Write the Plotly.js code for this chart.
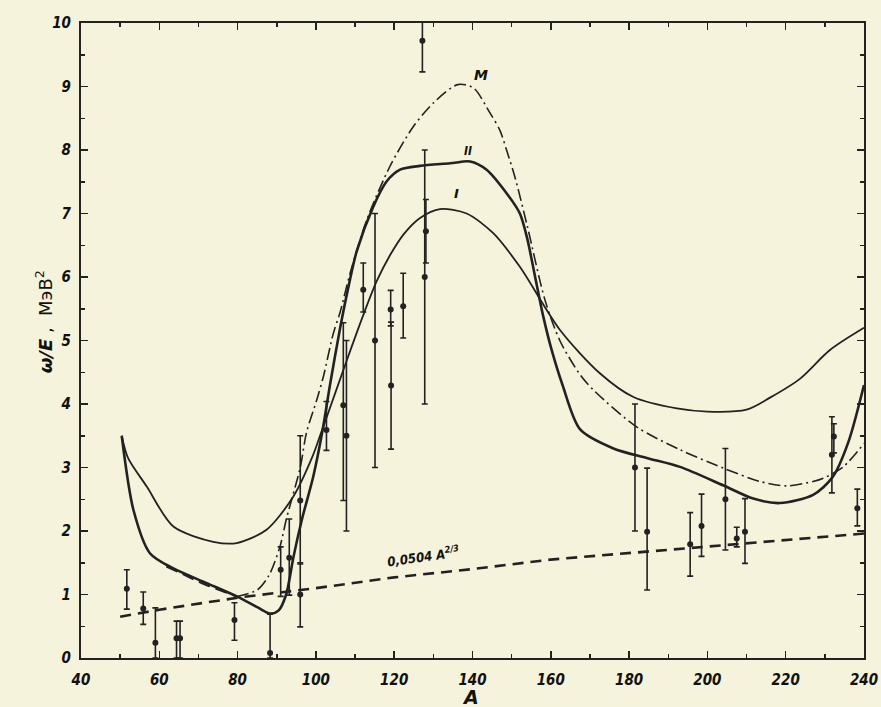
<!DOCTYPE html>
<html><head><meta charset="utf-8">
<script src="https://cdn.plot.ly/plotly-3.0.1.min.js"></script>
<style>html,body{margin:0;padding:0;background:#f5f3dc;}#chart{width:881px;height:707px;}</style>
</head><body><div id="chart"></div>
<script>
// Experimental points
const ptA   = [51.7,55.9,59.0,64.4,65.3,79.2,88.3,91.0,93.2,96.0,96.0,102.7,107.0,107.8,112.1,115.1,119.1,119.2,122.3,127.2,128.1,127.8,181.5,184.6,195.6,198.5,204.6,207.5,209.6,232.3,231.8,238.3];
const ptY   = [1.09,0.78,0.24,0.31,0.31,0.60,0.08,1.39,1.58,2.48,1.00,3.59,3.98,3.50,5.80,5.00,5.49,4.29,5.54,9.72,6.72,6.00,3.00,1.99,1.79,2.08,2.50,1.88,1.99,3.49,3.20,2.36];
const errUp = [0.30,0.26,0.55,0.27,0.27,0.27,0.61,0.36,0.61,1.02,0.50,0.45,1.30,1.50,0.42,2.00,0.30,1.00,0.52,0.48,0.50,2.00,1.00,1.00,0.50,0.50,0.80,0.18,0.52,0.20,0.60,0.30];
const errDn = [0.32,0.25,0.24,0.31,0.31,0.32,0.08,0.42,0.59,1.00,0.51,0.32,1.50,1.50,0.35,2.00,0.26,1.00,0.50,0.49,0.50,2.00,1.00,0.92,0.50,0.48,0.80,0.13,0.50,0.26,0.60,0.28];

// Curve I
const cIA = [50.4,52,56.8,63.6,73.8,79.8,87.4,94.2,99.3,101,102.8,107.9,112.1,115.5,119,122.5,126.6,131.7,138.5,145.3,152.1,162.3,172.6,181.1,192.2,200,210,216,223.7,231.3,240];
const cIY = [3.50,3.15,2.70,2.07,1.83,1.81,2.02,2.54,3.20,3.49,3.80,4.69,5.40,5.93,6.35,6.68,6.93,7.07,7.00,6.69,6.16,5.17,4.48,4.11,3.93,3.88,3.91,4.10,4.40,4.85,5.20];

// Curve II
const cIIA = [50.4,53.4,57.6,63.6,72.1,79.8,85,88.3,90.5,92.4,94.3,96.5,99.3,101.6,103.6,106.2,108.5,110.4,114.6,118,121.5,126.6,134.3,139.4,143.6,148.7,152.1,154,156,158,160,163,167.5,176,184.5,193,204,211.7,218.5,227,232,236,240];
const cIIY = [3.50,2.33,1.65,1.41,1.18,0.97,0.80,0.70,0.75,1.00,1.60,2.20,2.85,3.55,4.30,5.20,5.90,6.40,7.10,7.50,7.69,7.75,7.79,7.82,7.69,7.32,7.00,6.60,6.00,5.40,4.90,4.30,3.60,3.30,3.15,3.01,2.72,2.51,2.44,2.57,2.85,3.40,4.30];

// Curve M (dashed start, then dash-dot)
const mDashA = [61.8,66,72,79.8];
const mDashY = [1.44,1.32,1.15,0.97];
const mA = [79.8,85,88,90.8,92.5,96,97.6,100.2,101.9,104.4,106.2,108.7,113,118.9,124.9,130,136.2,140.2,144.5,147,148.7,150.9,154,158.5,162.3,167.5,170.9,181.9,193,204.1,213.4,220.2,227,229.6,234.7,240];
const mY = [0.97,1.07,1.30,1.75,2.20,3.00,3.55,4.06,4.43,5.10,5.45,6.05,6.90,7.74,8.37,8.74,9.03,8.98,8.58,8.31,8.00,7.56,6.80,5.64,5.00,4.46,4.22,3.64,3.28,2.99,2.78,2.71,2.78,2.83,3.01,3.38];

// 0,0504 A^(2/3) line
const lnA = [50,60,80,100,120,140,160,180,200,220,240];
const lnY = [0.65,0.76,0.95,1.10,1.27,1.40,1.55,1.65,1.75,1.85,1.96];

const ink = '#222222';
const data = [
  {x: lnA, y: lnY, mode:'lines', line:{color:ink, width:2.6, dash:'11px,7px'}, hoverinfo:'skip'},
  {x: cIA, y: cIY, mode:'lines', line:{color:ink, width:1.8, shape:'spline', smoothing:0.8}},
  {x: cIIA, y: cIIY, mode:'lines', line:{color:ink, width:2.6, shape:'spline', smoothing:0.8}},
  {x: mDashA, y: mDashY, mode:'lines', line:{color:ink, width:2.0, dash:'12px,6px', shape:'spline'}},
  {x: mA, y: mY, mode:'lines', line:{color:ink, width:1.6, dash:'12px,4px,2px,4px', shape:'spline', smoothing:0.8}},
  {x: ptA, y: ptY, mode:'markers', marker:{color:ink, size:6},
   error_y:{type:'data', symmetric:false, array:errUp, arrayminus:errDn, color:ink, thickness:1.6, width:3}}
];

const tickFont = {family:'DejaVu Sans Condensed, DejaVu Sans, sans-serif', size:15, color:'#111', weight:'bold', style:'italic'};
const layout = {
  width:881, height:707, showlegend:false,
  paper_bgcolor:'#f5f3dc', plot_bgcolor:'#f5f3dc',
  margin:{l:81, r:17, t:23, b:49},
  xaxis:{range:[40,240], tick0:40, dtick:20, showgrid:false, zeroline:false,
    showline:true, linecolor:ink, linewidth:2, mirror:'allticks',
    ticks:'inside', ticklen:7, tickwidth:1.5, tickcolor:ink,
    minor:{dtick:10, ticks:'inside', ticklen:4, tickcolor:ink},
    tickfont:tickFont, ticklabelstandoff:7},
  yaxis:{range:[0,10], tick0:0, dtick:1, showgrid:false, zeroline:false,
    showline:true, linecolor:ink, linewidth:2, mirror:'allticks',
    ticks:'inside', ticklen:7, tickwidth:1.5, tickcolor:ink,
    minor:{dtick:0.5, ticks:'inside', ticklen:4, tickcolor:ink},
    tickfont:tickFont, ticklabelstandoff:5},
  annotations:[
    {xref:'paper', yref:'paper', x:-0.064, y:0.53, textangle:-90, showarrow:false,
     text:'<b><i>ω/E</i></b> ,  МэВ<sup>2</sup>', font:{family:'DejaVu Sans, sans-serif', size:18, color:'#111'}},
    {xref:'paper', yref:'paper', x:0.497, y:-0.062, showarrow:false, yanchor:'middle',
     text:'<b><i>A</i></b>', font:{family:'DejaVu Sans, sans-serif', size:19, color:'#111'}},
    {x:142.2, y:9.18, showarrow:false, text:'<b><i>M</i></b>', font:{family:'DejaVu Sans, sans-serif', size:14, color:'#111'}},
    {x:138.8, y:7.98, showarrow:false, text:'<b><i>II</i></b>', font:{family:'DejaVu Sans Condensed, sans-serif', size:12, color:'#111'}},
    {x:135.8, y:7.32, showarrow:false, text:'<b><i>I</i></b>', font:{family:'DejaVu Sans, sans-serif', size:13, color:'#111'}},
    {x:127.5, y:1.6, showarrow:false, textangle:-8, text:'<b><i>0,0504 A<sup>2/3</sup></i></b>', font:{family:'DejaVu Sans Condensed, sans-serif', size:13, color:'#111'}}
  ]
};
Plotly.newPlot('chart', data, layout, {displayModeBar:false, staticPlot:true});
</script></body></html>
